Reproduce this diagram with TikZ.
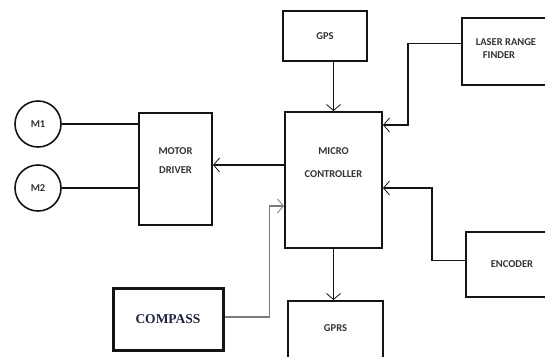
\documentclass[tikz,border=0pt]{standalone}
\usepackage{fontspec}
\setmainfont{Carlito}
\newfontfamily\compassfont{Liberation Serif}
\usepackage{tikz}
\usetikzlibrary{
  arrows.meta,
  positioning,
  calc
}
\definecolor{bdLine}{HTML}{141414}
\definecolor{bdText}{HTML}{333333}
\definecolor{bdGrey}{HTML}{7A7A7A}
\definecolor{bdNavy}{HTML}{1C2440}
\tikzset{
  bdnode/.style={
    draw=bdLine, line width=2pt, inner sep=0pt,
    font=\fontsize{10.5}{12}\selectfont\bfseries, text=bdText, align=center
  },
  bdbox/.style={bdnode, rectangle},
  motor/.style={bdnode, circle, line width=1.6pt, minimum size=46pt},
  compassbox/.style={bdbox, line width=3pt, font=\compassfont\fontsize{13.5}{15}\selectfont\bfseries, text=bdNavy},
  boxtext/.style={font=\fontsize{10.5}{23}\selectfont\bfseries, text=bdText, align=center, inner sep=0pt},
  wire/.style={line width=1.8pt, bdLine},
  conn/.style={wire, -{Straight Barb[length=6pt, width=14pt, line width=0.8pt]}},
  thinconn/.style={conn, line width=1.1pt, bdGrey}
}

\begin{document}
\begin{tikzpicture}[x=1pt, y=-1pt]
  \fill[white] (0,0) rectangle (545,356);
  \useasboundingbox (0,0) rectangle (545,356);
  % blocks
  \node[motor] (m1) at (38,124) {M1};
  \node[motor] (m2) at (38,188) {M2};
  \node[bdbox, minimum width=73pt, minimum height=112pt,
        label={[boxtext, font=\fontsize{10.5}{19}\selectfont\bfseries, yshift=8pt]center:MOTOR\\DRIVER}] (md) at (175.5,169) {};
  \node[bdbox, minimum width=97pt, minimum height=136pt,
        label={[boxtext, yshift=17pt]center:MICRO\\CONTROLLER}] (mc) at (333.5,180) {};
  \node[bdbox, minimum width=84pt, minimum height=50pt] (gps) at (325,36) {GPS};
  \node[bdbox, minimum width=90pt, minimum height=67pt,
        label={[boxtext, font=\fontsize{10.5}{13}\selectfont\bfseries, align=left, xshift=-1pt, yshift=3pt]center:LASER RANGE\\\hspace*{7pt}FINDER}] (lrf) at (507,51.5) {};
  \node[bdbox, minimum width=86pt, minimum height=65pt] (enc) at (509,264.5) {\hspace*{6pt}ENCODER};
  \node[bdbox, minimum width=95pt, minimum height=64pt,
        label={[boxtext, yshift=5pt]center:GPRS}] (gprs) at (335.5,333) {};
  \node[compassbox, minimum width=110pt, minimum height=62pt] (compass) at (168,319) {COMPASS};
  % connections
  \draw[wire] (m1.east) -- (m1.east -| md.west);
  \draw[wire] (m2.east) -- (m2.east -| md.west);
  \draw[conn] ([yshift=15pt]mc.west) -- ([yshift=15pt]mc.west -| md.east);
  \draw[conn] (mc.north |- gps.south) -- (mc.north);
  \draw[conn] ([yshift=8pt]lrf.west) -- ++(-53,0) |- ([yshift=55pt]mc.east);
  \draw[conn] ([yshift=4pt]enc.west) -- ++(-33,0) |- ([yshift=-8pt]mc.east);
  \draw[conn] (mc.south) -- (mc.south |- gprs.north);
  \draw[thinconn] ([yshift=2pt]compass.east) -- ++(45,0) |- ([yshift=-26pt]mc.west);
\end{tikzpicture}
\end{document}
